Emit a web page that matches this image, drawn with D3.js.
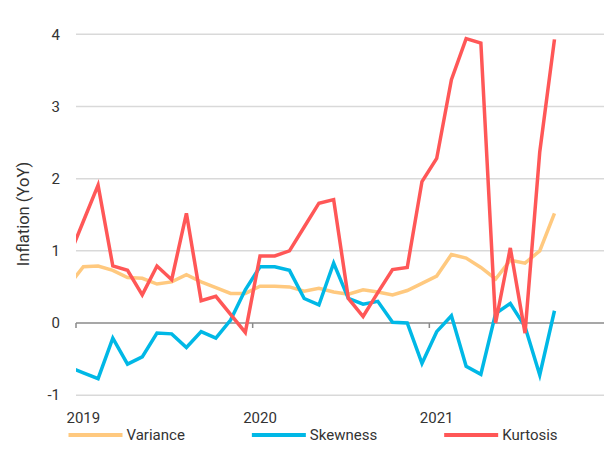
<!DOCTYPE html>
<html>
  <head>
    <meta charset="utf-8" />
    <script src="https://d3js.org/d3.v7.min.js"></script>
    <title>Inflation moments</title>
    <style>
      body { margin: 0; background: #fff; }
      svg text { font-family: Roboto, 'Open Sans', sans-serif; fill: #333; }
    </style>
  </head>

  <body>
    <div id="chart"></div>
  </body>

  <script>
    // months (Dec 2018 .. Sep 2021)
    var months = [
      '2018-12',
      '2019-01', '2019-02', '2019-03', '2019-04', '2019-05', '2019-06',
      '2019-07', '2019-08', '2019-09', '2019-10', '2019-11', '2019-12',
      '2020-01', '2020-02', '2020-03', '2020-04', '2020-05', '2020-06',
      '2020-07', '2020-08', '2020-09', '2020-10', '2020-11', '2020-12',
      '2021-01', '2021-02', '2021-03', '2021-04', '2021-05', '2021-06',
      '2021-07', '2021-08', '2021-09'
    ];

    var variance = [
      0.52,
      0.78, 0.79, 0.73, 0.63, 0.62, 0.54, 0.57, 0.67, 0.57, 0.49, 0.41, 0.41,
      0.51, 0.51, 0.50, 0.44, 0.48, 0.43, 0.40, 0.46, 0.43, 0.39, 0.45, 0.55,
      0.65, 0.95, 0.90, 0.77, 0.61, 0.87, 0.83, 1.00, 1.52
    ];

    var skewness = [
      -0.61,
      -0.69, -0.77, -0.21, -0.57, -0.47, -0.14, -0.15, -0.34, -0.12, -0.21, 0.04, 0.46,
      0.78, 0.78, 0.73, 0.34, 0.25, 0.83, 0.34, 0.26, 0.30, 0.01, 0.00, -0.56,
      -0.12, 0.10, -0.60, -0.71, 0.13, 0.27, -0.05, -0.72, 0.17
    ];

    var kurtosis = [
      0.91,
      1.41, 1.91, 0.79, 0.73, 0.39, 0.79, 0.60, 1.52, 0.31, 0.37, 0.12, -0.13,
      0.93, 0.93, 1.00, 1.33, 1.66, 1.71, 0.34, 0.09, 0.42, 0.74, 0.77, 1.96,
      2.28, 3.37, 3.94, 3.88, 0.00, 1.04, -0.14, 2.37, 3.93
    ];

    var yTicks = [-1, 0, 1, 2, 3, 4];
    var yearLabels = ['2019', '2020', '2021'];
    var seriesNames = ['Variance', 'Skewness', 'Kurtosis'];
    var seriesColors = ['#ffc97f', '#00b8e6', '#ff5757'];

    var width = 604,
      height = 452;

    var svg = d3
      .select('#chart')
      .append('svg')
      .attr('width', width)
      .attr('height', height);

    var parseMonth = d3.timeParse('%Y-%m');
    var start = parseMonth('2019-01');

    // month offset from Jan 2019, points sit in the middle of each month
    function monthIndex(m) {
      return d3.timeMonth.count(start, parseMonth(m));
    }

    var x = d3.scaleLinear().domain([0, 36]).range([76, 606]);
    var y = d3.scaleLinear().domain([-1, 4]).range([395.2, 34.3]);

    // grid lines
    svg
      .append('g')
      .selectAll('line')
      .data(yTicks)
      .join('line')
      .attr('x1', x(0))
      .attr('x2', width)
      .attr('y1', (d) => y(d))
      .attr('y2', (d) => y(d))
      .attr('stroke', (d) => (d === 0 ? '#8a8a8a' : '#d9d9d9'))
      .attr('stroke-width', 1.5);

    // y tick labels
    svg
      .append('g')
      .selectAll('text')
      .data(yTicks)
      .join('text')
      .attr('x', 60)
      .attr('y', (d) => y(d))
      .attr('dy', '0.35em')
      .style('text-anchor', 'end')
      .style('font-size', '15px')
      .text((d) => d);

    // year ticks on the zero line
    svg
      .append('g')
      .selectAll('line')
      .data(yearLabels)
      .join('line')
      .attr('x1', (d, i) => x(i * 12))
      .attr('x2', (d, i) => x(i * 12))
      .attr('y1', y(0))
      .attr('y2', y(0) + 5)
      .attr('stroke', '#8a8a8a')
      .attr('stroke-width', 1.5);

    // year labels, centered on the january point
    svg
      .append('g')
      .selectAll('text')
      .data(yearLabels)
      .join('text')
      .attr('x', (d) => x(monthIndex(d + '-01') + 0.5))
      .attr('y', 423)
      .style('text-anchor', 'middle')
      .style('font-size', '15px')
      .text((d) => d);

    // y axis title
    svg
      .append('text')
      .attr('transform', 'translate(23,214) rotate(-90)')
      .attr('dy', '0.35em')
      .style('text-anchor', 'middle')
      .style('font-size', '16.5px')
      .text('Inflation (YoY)');

    // clip lines to the plot area
    svg
      .append('clipPath')
      .attr('id', 'plot-clip')
      .append('rect')
      .attr('x', x(0))
      .attr('y', 0)
      .attr('width', width - x(0))
      .attr('height', height);

    var line = d3
      .line()
      .x((d) => x(monthIndex(d.month) + 0.5))
      .y((d) => y(d.value));

    var series = [variance, skewness, kurtosis];

    svg
      .append('g')
      .attr('clip-path', 'url(#plot-clip)')
      .selectAll('path')
      .data(series)
      .join('path')
      .attr('d', (values) =>
        line(values.map((v, i) => ({ month: months[i], value: v })))
      )
      .attr('fill', 'none')
      .attr('stroke', (d, i) => seriesColors[i])
      .attr('stroke-width', 3.5)
      .attr('stroke-linejoin', 'miter')
      .attr('stroke-linecap', 'butt');

    // legend, items spaced by their text width
    var legend = svg.append('g').attr('transform', 'translate(68.5,435)');
    var cursor = 0;
    seriesNames.forEach(function (name, i) {
      var item = legend.append('g').attr('transform', 'translate(' + cursor + ',0)');
      item
        .append('line')
        .attr('x1', 0)
        .attr('x2', 54)
        .attr('stroke', seriesColors[i])
        .attr('stroke-width', 4);
      var label = item
        .append('text')
        .attr('x', 58)
        .attr('dy', '0.35em')
        .style('font-size', '15px')
        .text(name);
      cursor += 58 + label.node().getComputedTextLength() + 67;
    });
  </script>
</html>
